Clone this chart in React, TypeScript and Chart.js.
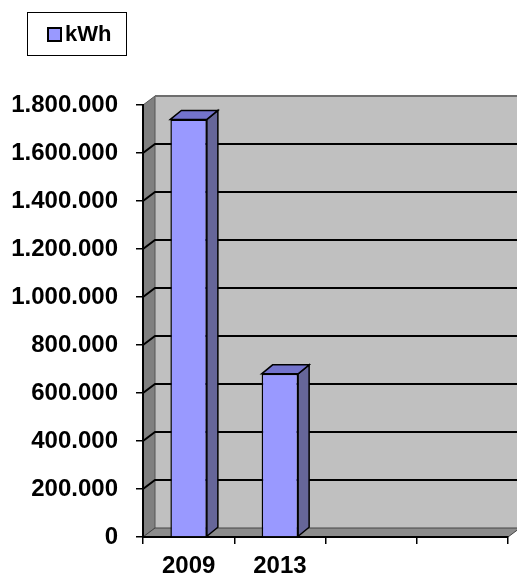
import React, { useEffect, useRef } from 'react';
import { Chart, registerables } from 'chart.js';
Chart.register(...registerables);

const categories = ['2009', '2013', '', ''];
const kwhValues: (number | null)[] = [1740000, 680000, null, null];
const seriesLabel = 'kWh';
const yMin = 0;
const yMax = 1800000;
const yStep = 200000;

const FONT = "Arial, 'Liberation Sans', sans-serif";
const WALL_DX = 12;
const WALL_DY = -9;
const BAR_DX = 11;
const BAR_DY = -9;
const FRONT = '#9999ff';
const SIDE = '#666699';
const TOP = '#7373cc';

function fmt(v: number) {
  return Math.round(v).toString().replace(/\B(?=(\d{3})+(?!\d))/g, '.');
}

function poly(ctx: CanvasRenderingContext2D, pts: number[][], fill: string, stroke: string, lw = 1) {
  ctx.beginPath();
  ctx.moveTo(pts[0][0], pts[0][1]);
  for (let i = 1; i < pts.length; i++) ctx.lineTo(pts[i][0], pts[i][1]);
  ctx.closePath();
  ctx.fillStyle = fill;
  ctx.fill();
  ctx.strokeStyle = stroke;
  ctx.lineWidth = lw;
  ctx.stroke();
}

const threeD = {
  id: 'threeD',
  beforeDraw(chart: any) {
    const { ctx, chartArea: a, scales } = chart;
    const y = scales.y;
    ctx.save();
    // back wall
    ctx.fillStyle = '#c0c0c0';
    ctx.fillRect(a.left + WALL_DX, a.top + WALL_DY, a.right - a.left, a.bottom - a.top);
    // left wall
    poly(ctx, [[a.left, a.top], [a.left + WALL_DX, a.top + WALL_DY], [a.left + WALL_DX, a.bottom + WALL_DY], [a.left, a.bottom]], '#808080', '#555555');
    // floor
    poly(ctx, [[a.left, a.bottom], [a.left + WALL_DX, a.bottom + WALL_DY], [a.right + WALL_DX, a.bottom + WALL_DY], [a.right, a.bottom]], '#8c8c8c', '#444444');
    // top edge of back wall
    ctx.strokeStyle = '#6e6e6e';
    ctx.lineWidth = 2;
    ctx.beginPath();
    ctx.moveTo(a.left + WALL_DX, a.top + WALL_DY);
    ctx.lineTo(a.right + WALL_DX, a.top + WALL_DY);
    ctx.stroke();
    // gridlines
    ctx.strokeStyle = '#000000';
    ctx.lineWidth = 2;
    y.ticks.forEach((t: any) => {
      if (t.value <= yMin || t.value >= yMax) return;
      const py = y.getPixelForValue(t.value);
      ctx.beginPath();
      ctx.moveTo(a.left, py);
      ctx.lineTo(a.left + WALL_DX, py + WALL_DY);
      ctx.lineTo(a.right + WALL_DX, py + WALL_DY);
      ctx.stroke();
    });
    ctx.restore();
  },
  afterDatasetsDraw(chart: any) {
    const { ctx } = chart;
    const meta = chart.getDatasetMeta(0);
    ctx.save();
    meta.data.forEach((bar: any, i: number) => {
      if (kwhValues[i] == null) return;
      const p = bar.getProps(['x', 'y', 'base', 'width'], true);
      const l = p.x - p.width / 2;
      const r = p.x + p.width / 2;
      poly(ctx, [[r, p.y], [r + BAR_DX, p.y + BAR_DY], [r + BAR_DX, p.base + BAR_DY], [r, p.base]], SIDE, '#000', 1.5);
      poly(ctx, [[l, p.y], [l + BAR_DX, p.y + BAR_DY], [r + BAR_DX, p.y + BAR_DY], [r, p.y]], TOP, '#000', 1.5);
    });
    ctx.restore();
  },
  afterDraw(chart: any) {
    const { ctx } = chart;
    ctx.save();
    // legend box
    ctx.fillStyle = '#ffffff';
    ctx.fillRect(27, 12, 99, 43);
    ctx.strokeStyle = '#000';
    ctx.lineWidth = 1;
    ctx.strokeRect(27.5, 12.5, 99, 43);
    ctx.fillStyle = FRONT;
    ctx.fillRect(48, 28, 13, 13);
    ctx.lineWidth = 2;
    ctx.strokeRect(48, 28, 13, 13);
    ctx.fillStyle = '#000';
    ctx.font = `bold 22px ${FONT}`;
    ctx.textBaseline = 'alphabetic';
    ctx.textAlign = 'left';
    ctx.fillText(seriesLabel, 65, 41);
    ctx.restore();
  },
};

export default function App() {
  const ref = useRef<HTMLCanvasElement | null>(null);
  useEffect(() => {
    if (!ref.current) return;
    const chart = new Chart(ref.current, {
      type: 'bar',
      data: {
        labels: categories,
        datasets: [
          {
            label: seriesLabel,
            data: kwhValues as any,
            backgroundColor: FRONT,
            borderColor: '#000',
            borderWidth: 1.5,
            barPercentage: 0.4,
            categoryPercentage: 1,
          },
        ],
      },
      options: {
        animation: false,
        responsive: true,
        maintainAspectRatio: false,
        layout: { padding: { top: 105, right: 9, left: 0, bottom: 0 } },
        plugins: { legend: { display: false }, tooltip: { enabled: false } },
        scales: {
          x: {
            grid: { display: true, drawOnChartArea: false, drawTicks: true, tickLength: 7, color: '#000', lineWidth: 1.5, offset: true },
            border: { display: true, color: '#000', width: 2 },
            ticks: { color: '#000', font: { family: FONT, size: 24, weight: 'bold' }, padding: 8, maxRotation: 0, autoSkip: false },
            afterFit: (s: any) => { s.height = 36; },
          },
          y: {
            min: yMin,
            max: yMax,
            grid: { display: true, drawOnChartArea: false, drawTicks: true, tickLength: 7, color: '#000', lineWidth: 1.5 },
            border: { display: true, color: '#000', width: 2 },
            ticks: {
              stepSize: yStep,
              color: '#000',
              font: { family: FONT, size: 24, weight: 'bold' },
              padding: 18,
              callback: (v: any) => fmt(Number(v)),
            },
            afterFit: (s: any) => { s.width = 143; },
          },
        },
      },
      plugins: [threeD],
    });
    return () => chart.destroy();
  }, []);
  return (
    <div style={{ position: 'fixed', left: 0, top: 0, width: 517, height: 573, background: '#fff' }}>
      <canvas ref={ref} />
    </div>
  );
}
